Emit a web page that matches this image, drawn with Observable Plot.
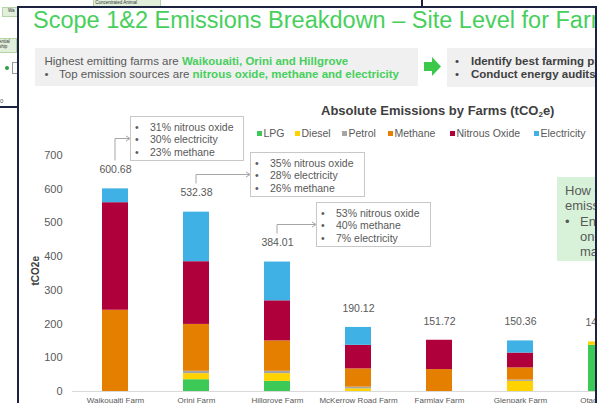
<!DOCTYPE html>
<html><head><meta charset="utf-8">
<script src="https://cdn.jsdelivr.net/npm/d3@7"></script>
<script src="https://cdn.jsdelivr.net/npm/@observablehq/plot@0.6"></script>
<style>
html,body{margin:0;padding:0;width:607px;height:403px;overflow:hidden;background:#fff;font-family:"Liberation Sans",Arial,sans-serif;}
.abs{position:absolute;white-space:nowrap;}
#front{position:absolute;left:18px;top:7px;width:577px;height:396px;overflow:hidden;background:#fff;}
.tiny{position:absolute;background:#e2efda;border:0.5px solid #b5d3a5;font-size:4.5px;line-height:5px;color:#333;overflow:hidden;white-space:nowrap;}
</style></head><body>
<div id="back"></div>
<div id="front"></div>
<div id="borders"></div>
<script>
// ---------- data ----------
const farms = ["Waikouaiti Farm","Orini Farm","Hillgrove Farm","McKerrow Road Farm","Farmlay Farm","Glenpark Farm","Otago Farm"];
const sources = ["LPG","Diesel","Petrol","Methane","Nitrous Oxide","Electricity"];
const colors = ["#3dc957","#ffd200","#a5a5a5","#e47f00","#b0003c","#3fb1e5"];
const lpg         = [0,   35,  30,  0,  0,  0, 137];
const diesel      = [0,   18,  23,  8,  0, 30,  10];
const petrol      = [0,    7,   7,  5,  0,  4,   0];
const methane     = [241, 139, 90, 54, 65, 36,   0];
const nitrous     = [319, 186, 119, 70, 87, 44,  0];
const electricity = [41,  147, 115, 53,  0, 36,  0];
const totals = [600.68, 532.38, 384.01, 190.12, 151.72, 150.36, 147.55];
const yTicks = [0,100,200,300,400,500,600,700];
const seriesValues = [lpg, diesel, petrol, methane, nitrous, electricity];
const legendX = [257, 295, 342, 388, 450, 534];

const annotations = [
  {farm: 0, lines: ["31% nitrous oxide","30% electricity","23% methane"], box:[130,116,114,45]},
  {farm: 1, lines: ["35% nitrous oxide","28% electricity","26% methane"], box:[250,152,115,45]},
  {farm: 2, lines: ["53% nitrous oxide","40% methane","7% electricity"], box:[316,202,115,45]}
];

const rows = [];
sources.forEach((s, si) => farms.forEach((f, fi) => {
  const v = seriesValues[si][fi];
  if (v > 0) rows.push({farm: f, source: s, value: v});
}));
const totalRows = farms.map((f, i) => ({farm: f, total: totals[i]}));

// ---------- helpers ----------
const front = document.getElementById("front");
const back = document.getElementById("back");
function put(parent, html, x, yc, size, style = "", offX = 18, offY = 7) {
  const d = document.createElement("div");
  d.className = "abs";
  d.innerHTML = html;
  d.style.cssText += `left:${x - offX}px;top:${yc - size / 2 - offY}px;font-size:${size}px;line-height:${size}px;${style}`;
  parent.appendChild(d);
  return d;
}
function box(parent, x, y, w, h, style, offX = 18, offY = 7) {
  const d = document.createElement("div");
  d.style.cssText = `position:absolute;left:${x - offX}px;top:${y - offY}px;width:${w}px;height:${h}px;box-sizing:border-box;${style}`;
  parent.appendChild(d);
  return d;
}

// ---------- back slide fragments ----------
function tiny(x, y, w, h, txt) {
  const d = document.createElement("div");
  d.className = "tiny";
  d.style.cssText += `left:${x}px;top:${y}px;width:${w}px;height:${h}px;`;
  d.innerHTML = txt;
  back.appendChild(d);
}
tiny(93, -1, 66, 6, "&nbsp;Concentrated Animal");
tiny(2, 7, 30, 8, "&nbsp;&nbsp;&nbsp;&nbsp;Wa");
tiny(-2, 38, 17, 13, "ential<br>ship");
box(back, 5, 66, 4, 4, "background:#2e9e44;border-radius:50%;", 0, 0);
box(back, 12, 62, 10, 12, "border:0.5px solid #999;", 0, 0);
box(back, 0, 106, 18, 1.5, "background:#1c2340;", 0, 0);
put(back, "0", 0, 101, 6, "color:#555;", 0, 0);
box(back, 421, 0, 1.5, 8, "background:#1c2340;", 0, 0);

// ---------- slide header ----------
const green = "#47cf5c";
put(front, "Scope 1&amp;2 Emissions Breakdown – Site Level for Farms", 33, 21, 23.5, `color:${green};`);
box(front, 35, 48, 383, 38, "background:#f0f0f0;");
put(front, `Highest emitting farms are <b style="color:${green}">Waikouaiti, Orini and Hillgrove</b>`, 44.5, 62, 11.5, "color:#595959;");
put(front, "•", 44.5, 75, 11.5, "color:#595959;");
put(front, `Top emission sources are <b style="color:${green}">nitrous oxide, methane and electricity</b>`, 59, 75, 11.5, "color:#595959;");
const arrow = box(front, 423, 56, 19, 21, "");
arrow.innerHTML = `<svg width="19" height="21"><polygon points="1,6 9,6 9,1 18,10.5 9,20 9,15 1,15" fill="#3cc84a"/></svg>`;
box(front, 447, 48, 170, 39, "background:#f0f0f0;");
put(front, "•", 455, 62, 11.5, "color:#404040;");
put(front, "<b>Identify best farming practices</b>", 471, 62, 11.5, "color:#404040;");
put(front, "•", 455, 75, 11.5, "color:#404040;");
put(front, "<b>Conduct energy audits</b>", 471, 75, 11.5, "color:#404040;");

// green side box
box(front, 557, 177, 60, 84, "background:#d7f2d9;");
put(front, "How can we reduce", 565, 190, 13, "color:#595959;");
put(front, "emissions?", 565, 205, 13, "color:#595959;");
put(front, "•", 565, 221, 13, "color:#595959;");
put(front, "Engage farm", 580, 221, 13, "color:#595959;");
put(front, "on-farm", 580, 236, 13, "color:#595959;");
put(front, "managers", 580, 251, 13, "color:#595959;");

// chart title & legend
put(front, "<b>Absolute Emissions by Farms (tCO<sub style='font-size:8px;vertical-align:-2px;line-height:0'>2</sub>e)</b>", 321, 110, 13, "color:#404040;");
sources.forEach((s, i) => {
  put(front, `<span style="display:inline-block;width:5px;height:5px;background:${colors[i]};margin-right:1.5px;vertical-align:1px"></span>${s}`,
      legendX[i], 133, 10.5, "color:#595959;");
});

// ---------- chart ----------
const labelDy = -19;
const plot = Plot.plot({
  width: 700, height: 410,
  marginLeft: 72, marginRight: 56, marginTop: 155, marginBottom: 19,
  style: {fontFamily: "'Liberation Sans', Arial, sans-serif", color: "#595959", background: "transparent", overflow: "visible"},
  x: {domain: farms, paddingInner: 0.683, paddingOuter: 0.33},
  y: {domain: [0, 700]},
  color: {domain: sources, range: colors},
  marks: [
    Plot.ruleY([0], {stroke: "#d9d9d9", strokeWidth: 1}),
    Plot.barY(rows, {x: "farm", y: "value", fill: "source"}),
    Plot.axisY({ticks: yTicks, tickSize: 0, tickPadding: 10, fontSize: 11, label: null}),
    Plot.axisX({tickSize: 0, tickPadding: 6, fontSize: 8, label: null}),
    Plot.text(totalRows, {x: "farm", y: "total", text: d => d.total.toFixed(2), dy: labelDy, fontSize: 10.5}),
    Plot.text(["tCO2e"], {frameAnchor: "left", dx: -37, dy: 12, rotate: -90, text: d => d, fontWeight: "bold", fontSize: 10, fill: "#404040"})
  ]
});
plot.style.position = "absolute";
plot.style.left = "-18px";
plot.style.top = "-7px";
plot.style.maxWidth = "none";
plot.style.width = "700px";
plot.style.height = "410px";
front.appendChild(plot);

// annotation boxes + connectors, anchored to the chart scales
const X = plot.scale("x"), Y = plot.scale("y");
const svg = d3.select(plot);
annotations.forEach(a => {
  const [bx, by, bw, bh] = a.box;
  box(front, bx, by, bw, bh, "border:1px solid #c8c8c8;background:#fff;");
  a.lines.forEach((t, i) => {
    const yc = by + 11 + i * 12.4;
    put(front, "•", bx + 5, yc, 10.5, "color:#595959;");
    put(front, t, bx + 20, yc, 10.5, "color:#595959;");
  });
  const f = farms[a.farm];
  const cx = X.apply(f) + X.bandwidth / 2;
  const y0 = Y.apply(totals[a.farm]) + labelDy - 9;
  const ym = by + bh / 2;
  svg.append("path")
    .attr("d", `M${cx},${y0}V${ym}H${bx - 1}`)
    .attr("fill", "none").attr("stroke", "#a6a6a6").attr("stroke-width", 1);
  svg.append("path")
    .attr("d", `M${bx - 4},${ym - 2.5}L${bx},${ym}L${bx - 4},${ym + 2.5}`)
    .attr("fill", "none").attr("stroke", "#a6a6a6").attr("stroke-width", 1);
});

// frame borders of the front slide
const b = document.getElementById("borders");
box(b, 17, 6, 2, 400, "background:#1c2340;", 0, 0);
box(b, 17, 6, 580, 2, "background:#1c2340;", 0, 0);
box(b, 595, 6, 2, 400, "background:#1c2340;", 0, 0);
</script>
</body></html>
